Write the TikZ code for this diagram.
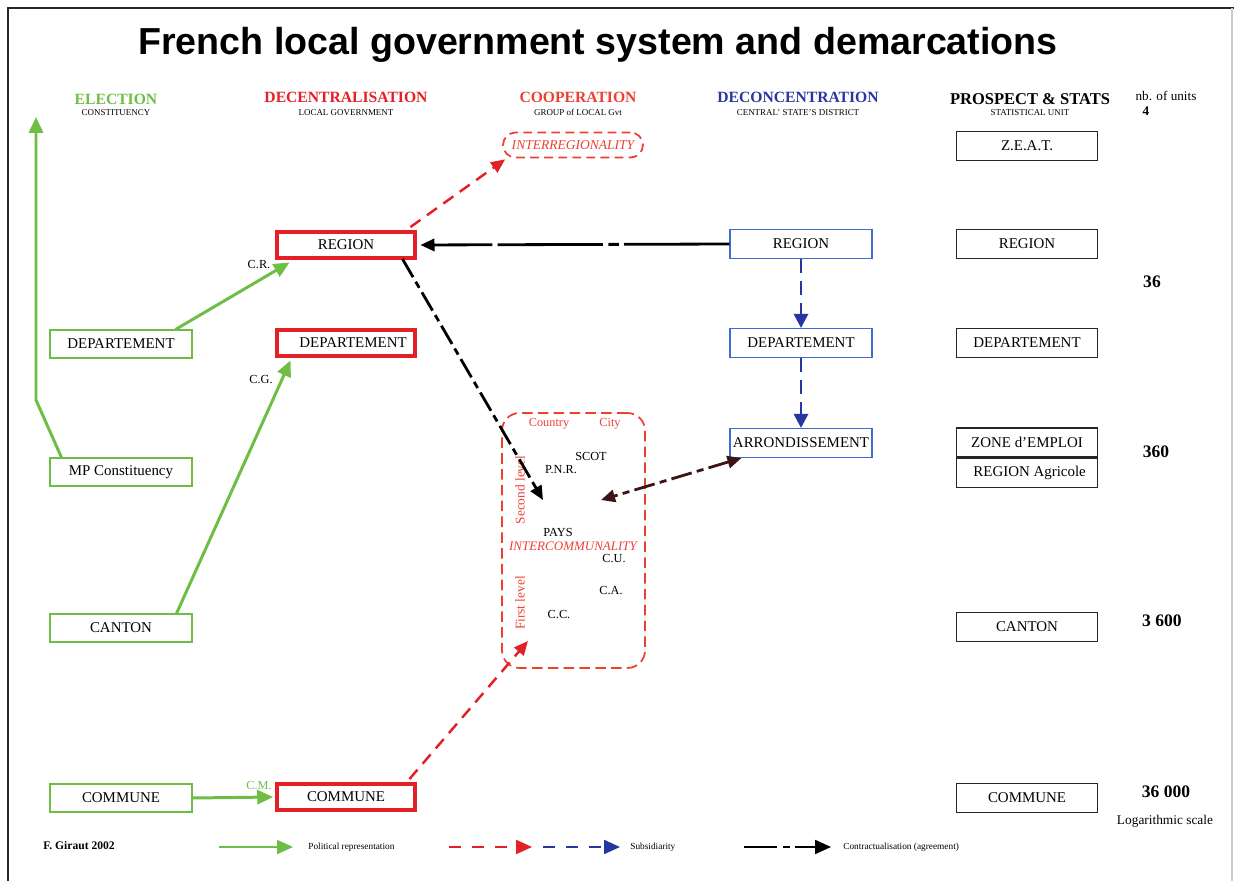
\documentclass[tikz,border=0pt]{standalone}
\usepackage{fontspec}
\setmainfont{Liberation Serif}
\newfontfamily\titlefont{Liberation Sans}
\usetikzlibrary{arrows.meta,calc}
\definecolor{elgreen}{RGB}{110,190,70}
\definecolor{decred}{RGB}{226,32,38}
\definecolor{redtxt}{RGB}{236,64,52}
\definecolor{hblue}{RGB}{40,55,160}
\definecolor{boxblue}{RGB}{60,110,210}
\definecolor{dbrown}{RGB}{60,22,22}
\newcommand\apos{\char"0027\relax}
\tikzset{
  nodefont/.style={font=\fontsize{8.5}{10}\selectfont},
  elbox/.style={draw=elgreen, line width=0.6pt, minimum width=2.84cm, minimum height=0.56cm, inner sep=0pt, nodefont},
  decbox/.style={draw=decred, line width=2.8pt, minimum width=2.76cm, minimum height=0.52cm, inner sep=0pt, nodefont},
  conbox/.style={draw=boxblue, line width=0.6pt, minimum width=2.84cm, minimum height=0.58cm, inner sep=0pt, nodefont},
  statbox/.style={draw=black!85, line width=0.9pt, minimum width=2.82cm, minimum height=0.58cm, inner sep=0pt, nodefont},
  head/.style={font=\fontsize{8.9}{10}\selectfont\bfseries, inner sep=0pt},
  subhead/.style={font=\fontsize{5.1}{6}\selectfont, inner sep=0pt},
  small/.style={font=\fontsize{7}{8}\selectfont, inner sep=0pt},
  num/.style={font=\fontsize{10}{12}\selectfont\bfseries, inner sep=0pt},
  legtext/.style={font=\fontsize{5.3}{6}\selectfont, inner sep=0pt, anchor=west},
  greenarrow/.style={draw=elgreen, line width=1.7pt, -{Triangle[length=9pt,width=8pt]}},
  redarrow/.style={draw=decred, line width=1.4pt, dash pattern=on 7pt off 4.5pt, -{Triangle[length=8pt,width=7pt]}},
  bluearrow/.style={draw=hblue, line width=1.6pt, dash pattern=on 8pt off 4.5pt, -{Triangle[length=8pt,width=8pt]}},
  blackarrow/.style={draw=black, line width=1.6pt, -{Triangle[length=8pt,width=7pt]}},
}
\begin{document}
\begin{tikzpicture}[x=0.02cm,y=-0.02cm]
\useasboundingbox (0,0) rectangle (1234,881);
\draw[black!85, line width=1.2pt] (8,881) -- (8,8) -- (1234,8);
\draw[black!20, line width=0.6pt] (1232,8) -- (1232,881);

% title
\node[font=\titlefont\fontsize{21.4}{25}\selectfont\bfseries, inner sep=0pt] (title) at (598,45) {French local government system and demarcations};

% headers
\node[head, text=elgreen] (h1) at (116,99) {ELECTION};
\node[subhead] (s1) at (116,113) {CONSTITUENCY};
\node[head, text=decred] (h2) at (346,97) {DECENTRALISATION};
\node[subhead] (s2) at (346,113) {LOCAL GOVERNMENT};
\node[head, text=redtxt] (h3) at (578,97) {COOPERATION};
\node[subhead] (s3) at (578,112) {GROUP of LOCAL Gvt};
\node[head, text=hblue] (h4) at (798,97) {DECONCENTRATION};
\node[subhead] (s4) at (798,113) {CENTRAL\apos{} STATE\apos{}S DISTRICT};
\node[head, text=black, font=\fontsize{9.4}{10}\selectfont\bfseries] (h5) at (1030,99) {PROSPECT \& STATS};
\node[subhead] (s5) at (1030,113) {STATISTICAL UNIT};
\node[small, font=\fontsize{7.5}{8}\selectfont] (nb) at (1166,96) {nb. of units};
\node[small, font=\fontsize{7.5}{8}\selectfont\bfseries] (n4) at (1146,111) {4};

% election column
\node[elbox] (edep) at (121,344) {DEPARTEMENT};
\node[elbox] (emp) at (121,472) {MP Constituency};
\node[elbox] (ecan) at (121,628) {CANTON};
\node[elbox] (ecom) at (121,798) {COMMUNE};

% decentralisation column
\node[decbox] (dreg) at (346,245) {REGION};
\node[decbox] (ddep) at (346,343) {\hspace{8pt}DEPARTEMENT};
\node[decbox] (dcom) at (346,797) {COMMUNE};
\node[small] (cr) at (259,265) {C.R.};
\node[small] (cg) at (261,380) {C.G.};
\node[small, text=elgreen] (cm) at (259,786) {C.M.};

% cooperation
\node[draw=redtxt, line width=1pt, dash pattern=on 5pt off 3pt, rounded corners=0.25cm, minimum width=2.8cm, minimum height=0.5cm, inner sep=0pt,
      font=\fontsize{7.7}{8}\selectfont\itshape, text=redtxt] (inter) at (573,145) {INTERREGIONALITY};
\node[draw=redtxt, line width=1pt, dash pattern=on 6pt off 3pt, rounded corners=0.35cm, minimum width=2.86cm, minimum height=5.1cm, inner sep=0pt] (coop) at (573.5,540.5) {};
\node[small, text=redtxt] (country) at (549,424) {Country};
\node[small, text=redtxt] (city) at (610,424) {City};
\node[small] (scot) at (591,456) {SCOT};
\node[small] (pnr) at (561,470) {P.N.R.};
\node[small, text=redtxt, rotate=90, font=\fontsize{7.6}{8}\selectfont] (second) at (520,490) {Second level};
\node[small] (pays) at (558,532) {PAYS};
\node[small, text=redtxt, font=\fontsize{7.4}{8}\selectfont\itshape] (intercom) at (573,546) {INTERCOMMUNALITY};
\node[small] (cu) at (614,559) {C.U.};
\node[small] (ca) at (611,591) {C.A.};
\node[small] (cc) at (559,615) {C.C.};
\node[small, text=redtxt, rotate=90, font=\fontsize{7.6}{8}\selectfont] (first) at (520,603) {First level};
\coordinate (secondin) at (543,500);
\coordinate (contrin) at (601,500);
\coordinate (firstin) at (528,641);

% deconcentration
\node[conbox] (rreg) at (801,244) {REGION};
\node[conbox] (rdep) at (801,343) {DEPARTEMENT};
\node[conbox] (rarr) at (801,443) {ARRONDISSEMENT};

% stats
\node[statbox] (zeat) at (1027,146) {Z.E.A.T.};
\node[statbox] (sreg) at (1027,244) {REGION};
\node[statbox] (sdep) at (1027,343) {DEPARTEMENT};
\node[statbox] (szone) at (1027,442.5) {ZONE d\apos{}EMPLOI};
\node[statbox, anchor=north] (sagr) at (szone.south) {\hspace{3pt}REGION Agricole};
\node[statbox] (scan) at (1027,627) {CANTON};
\node[statbox] (scom) at (1027,798) {COMMUNE};

% numbers
\node[num] (n36) at (1152,282) {36};
\node[num] (n360) at (1156,452) {360};
\node[num] (n3600) at (1162,621) {3 600};
\node[num] (n36000) at (1166,792) {36 000};
\node[font=\fontsize{7.6}{9}\selectfont, inner sep=0pt] (logs) at (1165,821) {Logarithmic scale};

% election arrows
\coordinate (mpbend) at (36,400);
\coordinate (mptop) at (36,117);
\draw[greenarrow] ([xshift=0.24cm]emp.north west) -- (mpbend) -- (mptop);
\draw[greenarrow] ([xshift=-0.34cm]edep.north east) -- ([xshift=0.3cm,yshift=-0.04cm]dreg.south west);
\draw[greenarrow] ([xshift=-0.32cm]ecan.north east) -- ([xshift=0.32cm,yshift=-0.04cm]ddep.south west);
\draw[greenarrow] (ecom.east) -- ([xshift=-0.03cm]dcom.west);

% cooperation arrows
\draw[redarrow] ([xshift=-0.14cm,yshift=0.05cm]dreg.north east) -- ([xshift=0.06cm,yshift=-0.02cm]inter.south west);
\draw[redarrow] ([xshift=-0.16cm,yshift=0.05cm]dcom.north east) -- (firstin);
\draw[blackarrow, dash pattern=on 12pt off 3pt on 4pt off 3pt] ([xshift=-0.3cm,yshift=0.03cm]dreg.south east) -- (secondin);
\draw[draw=dbrown, line width=1.6pt, dash pattern=on 12pt off 3pt on 4pt off 3pt, {Triangle[length=8pt,width=7pt]}-{Triangle[length=8pt,width=7pt]}] ([xshift=0.24cm]rarr.south west) -- (contrin);

% deconcentration arrows
\draw[blackarrow, dash pattern=on 60pt off 3pt on 6pt off 3pt on 60pt off 3pt] (rreg.west) -- ([xshift=0.06cm]dreg.east);
\draw[bluearrow] (rreg.south) -- (rdep.north);
\draw[bluearrow] (rdep.south) -- (rarr.north);

% legend
\node[font=\fontsize{6.6}{7}\selectfont\bfseries, inner sep=0pt, anchor=west] (author) at (43,846) {F. Giraut 2002};
\coordinate (lg1) at (219,847);
\coordinate (lg2) at (293,847);
\draw[draw=elgreen, line width=0.8pt, -{Triangle[length=9pt,width=8pt]}] (lg1) -- (lg2);
\node[legtext] (lt1) at (308,847) {Political representation};
\coordinate (lr1) at (449,847);
\coordinate (lr2) at (532,847);
\draw[draw=decred, line width=0.8pt, dash pattern=on 7pt off 6pt, -{Triangle[length=9pt,width=8pt]}] (lr1) -- (lr2);
\coordinate (lb1) at (543,847);
\coordinate (lb2) at (620,847);
\draw[draw=hblue, line width=0.8pt, dash pattern=on 7pt off 6pt, -{Triangle[length=9pt,width=8pt]}] (lb1) -- (lb2);
\node[legtext] (lt2) at (630,847) {Subsidiarity};
\coordinate (lk1) at (744,847);
\coordinate (lk2) at (831,847);
\draw[draw=black, line width=0.8pt, dash pattern=on 19pt off 3pt on 4pt off 3pt, -{Triangle[length=9pt,width=8pt]}] (lk1) -- (lk2);
\node[legtext] (lt3) at (843,847) {Contractualisation (agreement)};
\end{tikzpicture}
\end{document}
